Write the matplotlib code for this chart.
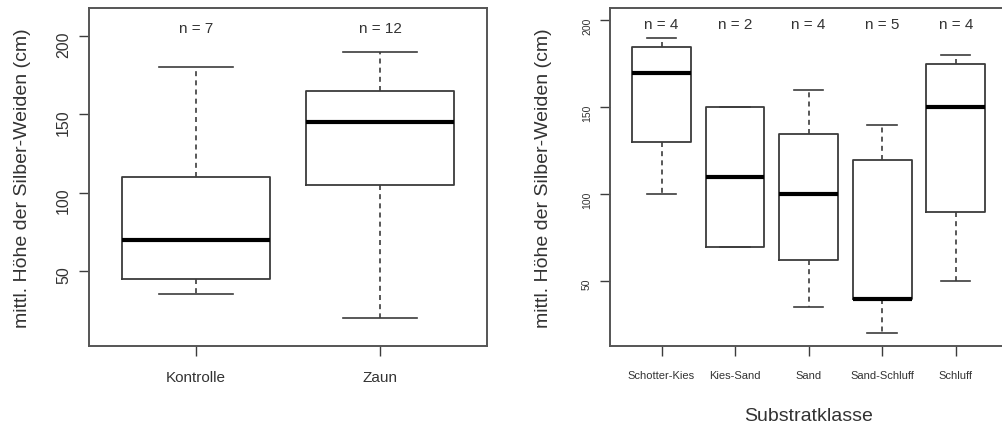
import matplotlib
matplotlib.use("Agg")
import matplotlib.pyplot as plt

plt.rcParams['font.family'] = ['Liberation Sans', 'DejaVu Sans']

# left panel: Kontrolle vs Zaun
groups_left = ["Kontrolle", "Zaun"]
n_left = [7, 12]
whislo_left = [35, 20]
q1_left = [45, 105]
med_left = [70, 145]
q3_left = [110, 165]
whishi_left = [180, 190]

# right panel: Substratklasse
classes = ["Schotter-Kies", "Kies-Sand", "Sand", "Sand-Schluff", "Schluff"]
n_right = [4, 2, 4, 5, 4]
whislo_right = [100, 70, 35, 20, 50]
q1_right = [130, 70, 62.5, 40, 90]
med_right = [170, 110, 100, 40, 150]
q3_right = [185, 150, 135, 120, 175]
whishi_right = [190, 150, 160, 140, 180]

yticks = [50, 100, 150, 200]
ylabel = "mittl. Höhe der Silber-Weiden (cm)"

LINE = '#3c3c3c'
TEXT = '#333333'


def make_stats(lo, q1, med, q3, hi):
    return [dict(whislo=a, q1=b, med=c, q3=d, whishi=e, fliers=[])
            for a, b, c, d, e in zip(lo, q1, med, q3, hi)]


def draw_panel(ax, stats, labels, counts, n_y, tick_fs, ytick_fs):
    pos = list(range(1, len(stats) + 1))
    ax.bxp(stats, positions=pos, widths=0.8, capwidths=0.4,
           showfliers=False,
           boxprops=dict(color=LINE, linewidth=1.3),
           medianprops=dict(color='black', linewidth=3.0, solid_capstyle='butt'),
           whiskerprops=dict(color=LINE, linewidth=1.2, linestyle=(0, (3, 2.5))),
           capprops=dict(color=LINE, linewidth=1.2))
    for p, c in zip(pos, counts):
        ax.text(p, n_y, f"n = {c}", ha='center', va='center',
                fontsize=11, color=TEXT)
    ax.set_xticks(pos)
    ax.set_xticklabels(labels)
    ax.set_yticks(yticks)
    ax.tick_params(axis='x', length=7, width=1.0, color=LINE,
                   labelsize=tick_fs, labelcolor=TEXT, pad=10)
    ax.tick_params(axis='y', length=7, width=1.0, color=LINE,
                   labelsize=ytick_fs, labelcolor=TEXT, labelrotation=90, pad=6)
    for s in ax.spines.values():
        s.set_color('#555555')
        s.set_linewidth(1.4)
    ax.text(-0.168, 0.5, ylabel, rotation=90, ha='center', va='center',
            fontsize=14, color=TEXT, transform=ax.transAxes)


fig = plt.figure(figsize=(10.03, 4.27), dpi=100)
ax1 = fig.add_axes([0.0887, 0.1874, 0.3968, 0.7916])
ax2 = fig.add_axes([0.6082, 0.1874, 0.3960, 0.7916])

draw_panel(ax1, make_stats(whislo_left, q1_left, med_left, q3_left, whishi_left),
           groups_left, n_left, 205, 11, 11.5)
ax1.set_xlim(0.42, 2.58)
ax1.set_ylim(2, 218)

draw_panel(ax2, make_stats(whislo_right, q1_right, med_right, q3_right, whishi_right),
           classes, n_right, 198, 8, 7.5)
ax2.set_xlim(0.3, 5.7)
ax2.set_ylim(12.8, 207.2)
ax2.text(0.5, -0.207, "Substratklasse", ha='center', va='center',
         fontsize=14, color=TEXT, transform=ax2.transAxes)

fig.savefig("out.png", dpi=100)
